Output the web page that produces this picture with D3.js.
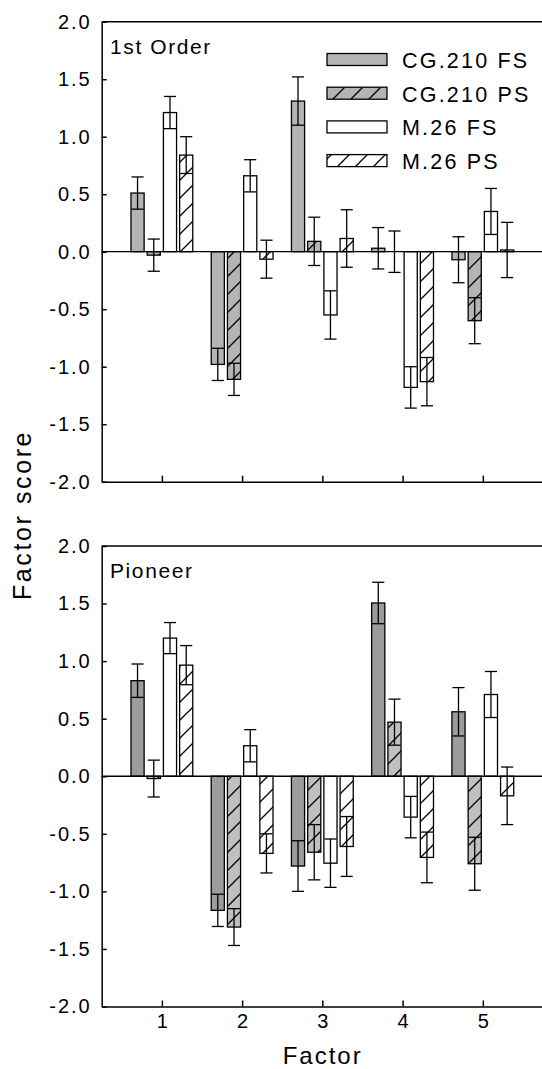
<!DOCTYPE html>
<html><head><meta charset="utf-8">
<script src="https://cdn.jsdelivr.net/npm/d3@7"></script>
<style>
body{margin:0;background:#fff}
text{font-family:"Liberation Sans",Arial,sans-serif;fill:#000}
</style>
</head><body>
<svg id="c" width="542" height="1069"></svg>
<script>
// ---- data ----
const factors = [1, 2, 3, 4, 5];
const seriesNames = ["CG.210 FS", "CG.210 PS", "M.26 FS", "M.26 PS"];
const yTicks = [-2, -1.5, -1, -0.5, 0, 0.5, 1, 1.5, 2];
const yTickLabels = ["-2.0", "-1.5", "-1.0", "-0.5", "0.0", "0.5", "1.0", "1.5", "2.0"];
const xTickLabels = ["1", "2", "3", "4", "5"];

// 1st Order panel
const firstCG210FS    = [0.51, -0.98, 1.31, 0.03, -0.07];
const firstCG210FSErr = [0.14, 0.14, 0.21, 0.18, 0.20];
const firstCG210PS    = [-0.03, -1.11, 0.09, 0.0, -0.60];
const firstCG210PSErr = [0.14, 0.14, 0.21, 0.18, 0.20];
const firstM26FS      = [1.21, 0.66, -0.55, -1.18, 0.35];
const firstM26FSErr   = [0.14, 0.14, 0.21, 0.18, 0.20];
const firstM26PS      = [0.84, -0.065, 0.115, -1.13, 0.015];
const firstM26PSErr   = [0.16, 0.165, 0.25, 0.21, 0.24];

// Pioneer panel
const pioCG210FS    = [0.83, -1.165, -0.78, 1.505, 0.56];
const pioCG210FSErr = [0.145, 0.14, 0.22, 0.18, 0.21];
const pioCG210PS    = [-0.02, -1.31, -0.66, 0.47, -0.76];
const pioCG210PSErr = [0.16, 0.16, 0.24, 0.20, 0.23];
const pioM26FS      = [1.20, 0.265, -0.755, -0.355, 0.71];
const pioM26FSErr   = [0.135, 0.14, 0.21, 0.18, 0.20];
const pioM26PS      = [0.965, -0.67, -0.61, -0.705, -0.17];
const pioM26PSErr   = [0.17, 0.17, 0.26, 0.22, 0.25];

// ---- drawing ----
const svg = d3.select("#c");
const defs = svg.append("defs");
function hatch(id, bg) {
  const p = defs.append("pattern").attr("id", id).attr("patternUnits", "userSpaceOnUse")
    .attr("width", 18).attr("height", 18);
  p.append("rect").attr("width", 18).attr("height", 18).attr("fill", bg);
  p.append("path").attr("d", "M0,18L18,0M-3,3L3,-3M15,21L21,15")
    .attr("stroke", "#000").attr("stroke-width", 1.3);
}
hatch("hGrayTop", "#b4b4b4");
hatch("hGrayBot", "#c0c0c0");
hatch("hWhite", "#ffffff");

const x = d3.scaleLinear().domain([0.25, 5.75]).range([101.7, 543]);
const inner = d3.scaleBand().domain(seriesNames).range([-30.9, 30.9]).paddingInner(0.19).paddingOuter(0);
const FF = '"Liberation Sans",Arial,sans-serif';

function panel(yRange, vals, errs, fills, title) {
  const y = d3.scaleLinear().domain([-2, 2]).range(yRange);
  const g = svg.append("g");
  const rows = [];
  seriesNames.forEach((s, si) => factors.forEach((f, fi) => rows.push({s, si, f, v: vals[si][fi], e: errs[si][fi]})));

  g.selectAll("rect.bar").data(rows).join("rect")
    .attr("x", d => x(d.f) + inner(d.s))
    .attr("width", inner.bandwidth())
    .attr("y", d => y(Math.max(0, d.v)))
    .attr("height", d => Math.abs(y(d.v) - y(0)))
    .attr("fill", d => fills[d.si])
    .attr("stroke", "#000").attr("stroke-width", 1.3);

  const cw = inner.bandwidth() - 1;
  const eb = g.selectAll("g.eb").data(rows).join("g")
    .attr("transform", d => `translate(${x(d.f) + inner(d.s) + inner.bandwidth() / 2},0)`)
    .attr("stroke", "#000").attr("stroke-width", 1.3).attr("fill", "none");
  eb.append("line").attr("y1", d => y(d.v - d.e)).attr("y2", d => y(d.v + d.e));
  eb.append("line").attr("x1", -cw / 2).attr("x2", cw / 2).attr("y1", d => y(d.v + d.e)).attr("y2", d => y(d.v + d.e));
  eb.append("line").attr("x1", -cw / 2).attr("x2", cw / 2).attr("y1", d => y(d.v - d.e)).attr("y2", d => y(d.v - d.e));

  // zero line
  g.append("line").attr("x1", x.range()[0]).attr("x2", x.range()[1]).attr("y1", y(0)).attr("y2", y(0))
    .attr("stroke", "#000").attr("stroke-width", 1.3);

  // axes
  const ya = g.append("g").attr("transform", `translate(${x.range()[0]},0)`)
    .call(d3.axisLeft(y).tickValues(yTicks).tickFormat((d, i) => yTickLabels[i]).tickSizeInner(-5).tickSizeOuter(0).tickPadding(10));
  ya.selectAll("text").attr("font-size", 20).attr("letter-spacing", 2).style("font-family", FF);
  const xa = g.append("g").attr("transform", `translate(0,${yRange[0]})`)
    .call(d3.axisBottom(x).tickValues(factors).tickFormat((d, i) => xTickLabels[i]).tickSizeInner(-6).tickSizeOuter(0).tickPadding(7));
  xa.selectAll("text").attr("font-size", 20).style("font-family", FF);
  g.selectAll(".domain,.tick line").attr("stroke-width", 1.5);
  g.append("line").attr("x1", x.range()[0]).attr("x2", x.range()[1]).attr("y1", yRange[1]).attr("y2", yRange[1])
    .attr("stroke", "#000").attr("stroke-width", 1.5);

  g.append("text").attr("x", 110).attr("y", yRange[1] + 32).attr("font-size", 21).attr("letter-spacing", 1.6).text(title);
  return xa;
}

const topFills = ["#b4b4b4", "url(#hGrayTop)", "#ffffff", "url(#hWhite)"];
const botFills = ["#9c9c9c", "url(#hGrayBot)", "#ffffff", "url(#hWhite)"];

const xaTop = panel([481.7, 21.7],
  [firstCG210FS, firstCG210PS, firstM26FS, firstM26PS],
  [firstCG210FSErr, firstCG210PSErr, firstM26FSErr, firstM26PSErr], topFills, "1st Order");
xaTop.selectAll("text").remove();

panel([1006.5, 546],
  [pioCG210FS, pioCG210PS, pioM26FS, pioM26PS],
  [pioCG210FSErr, pioCG210PSErr, pioM26FSErr, pioM26PSErr], botFills, "Pioneer");

// legend
const legFills = ["#b4b4b4", "url(#hGrayTop)", "#ffffff", "url(#hWhite)"];
const leg = svg.append("g");
seriesNames.forEach((s, i) => {
  const yy = 53.5 + i * 33.7;
  leg.append("rect").attr("x", 327).attr("y", yy).attr("width", 60).attr("height", 12)
    .attr("fill", legFills[i]).attr("stroke", "#000").attr("stroke-width", 1.3);
  leg.append("text").attr("x", 402).attr("y", yy + 14.5).attr("font-size", 21.5).attr("letter-spacing", 2.2).text(s);
});

// axis titles
svg.append("text").attr("x", 322.7).attr("y", 1064).attr("text-anchor", "middle")
  .attr("font-size", 24).attr("letter-spacing", 2).text("Factor");
svg.append("text").attr("transform", "translate(31,515) rotate(-90)").attr("text-anchor", "middle")
  .attr("font-size", 25).attr("letter-spacing", 2.6).text("Factor score");
</script>
</body></html>
